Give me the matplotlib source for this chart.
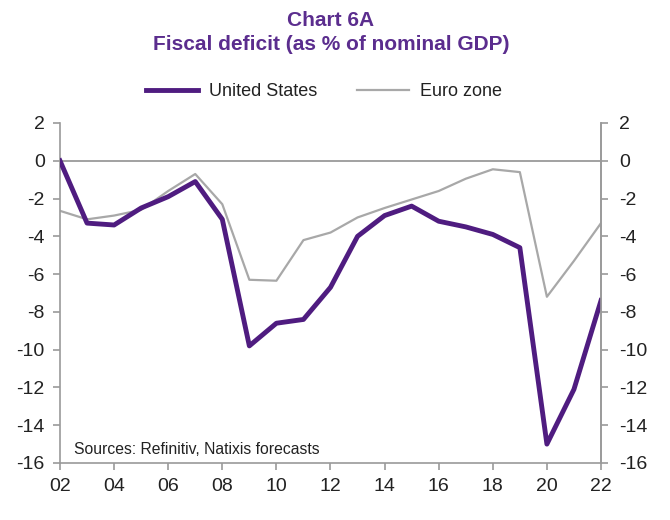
import matplotlib
matplotlib.use("Agg")
import matplotlib.pyplot as plt
from matplotlib.lines import Line2D

plt.rcParams['font.family'] = ['Liberation Sans', 'DejaVu Sans']

years = list(range(2002, 2023))
us = [0.0, -3.3, -3.4, -2.5, -1.9, -1.1, -3.1, -9.8, -8.6, -8.4, -6.7,
      -4.0, -2.9, -2.4, -3.2, -3.5, -3.9, -4.6, -15.0, -12.1, -7.4]
ez = [-2.65, -3.1, -2.9, -2.6, -1.6, -0.7, -2.3, -6.3, -6.35, -4.2, -3.8,
      -3.0, -2.5, -2.05, -1.6, -0.95, -0.45, -0.6, -7.2, -5.3, -3.3]
xticks = list(range(2002, 2023, 2))
xticklabels = [f"{y % 100:02d}" for y in xticks]
yticks = list(range(-16, 3, 2))
yticklabels = [str(v) if v >= 0 else '-' + str(-v) for v in yticks]

title_col = '#5b2d8e'
us_col = '#4f1c80'
ez_col = '#a8a8a8'
axis_col = '#9a9a9a'
text_col = '#222222'

fig = plt.figure(figsize=(6.7, 5.2), dpi=100)
ax = fig.add_axes([60/670, 1-463/520, (601-60)/670, (463-123)/520])

ax.axhline(0, color=axis_col, lw=1.3, zorder=1)
ax.plot(years, ez, color=ez_col, lw=1.6, zorder=2, label='Euro zone')
ax.plot(years, us, color=us_col, lw=3.5, zorder=3, label='United States',
        solid_joinstyle='round')

ax.set_xlim(2002, 2022)
ax.set_ylim(-16, 2)
ax.set_xticks(xticks)
ax.set_xticklabels(xticklabels)
ax.set_yticks(yticks)
ax.set_yticklabels(yticklabels)

ax.spines['top'].set_visible(False)
for s in ['left', 'bottom', 'right']:
    ax.spines[s].set_color(axis_col)
    ax.spines[s].set_linewidth(1.2)

ax.tick_params(axis='both', colors=axis_col, labelcolor=text_col,
               labelsize=14, length=5, width=1.2, direction='out')
ax.tick_params(axis='x', pad=6)
ax.tick_params(axis='y', pad=6)

ax2 = ax.twinx()
ax2.set_ylim(-16, 2)
ax2.set_yticks(yticks)
ax2.set_yticklabels(yticklabels)
for s in ['top', 'left', 'bottom']:
    ax2.spines[s].set_visible(False)
ax2.spines['right'].set_color(axis_col)
ax2.spines['right'].set_linewidth(1.2)
ax2.tick_params(axis='y', colors=axis_col, labelcolor=text_col,
                labelsize=14, length=5, width=1.2, direction='out', pad=8)

ax.text(2002.5, -15.3, 'Sources: Refinitiv, Natixis forecasts',
        fontsize=11.3, color=text_col, ha='left', va='center')

fig.text(331/670, 1-21/520, 'Chart 6A', ha='center', va='center',
         fontsize=15, fontweight='bold', color=title_col)
fig.text(331/670, 1-45/520, 'Fiscal deficit (as % of nominal GDP)',
         ha='center', va='center', fontsize=15, fontweight='bold',
         color=title_col)

handles = [Line2D([0], [0], color=us_col, lw=3.5),
           Line2D([0], [0], color=ez_col, lw=1.6)]
fig.legend(handles, ['United States', 'Euro zone'], loc='center',
           bbox_to_anchor=(324/670, 1-92/520), ncol=2, frameon=False,
           fontsize=13, handlelength=2.9, columnspacing=2.2,
           handletextpad=0.6, labelcolor=text_col)

fig.savefig('out.png', dpi=100, facecolor='white')
